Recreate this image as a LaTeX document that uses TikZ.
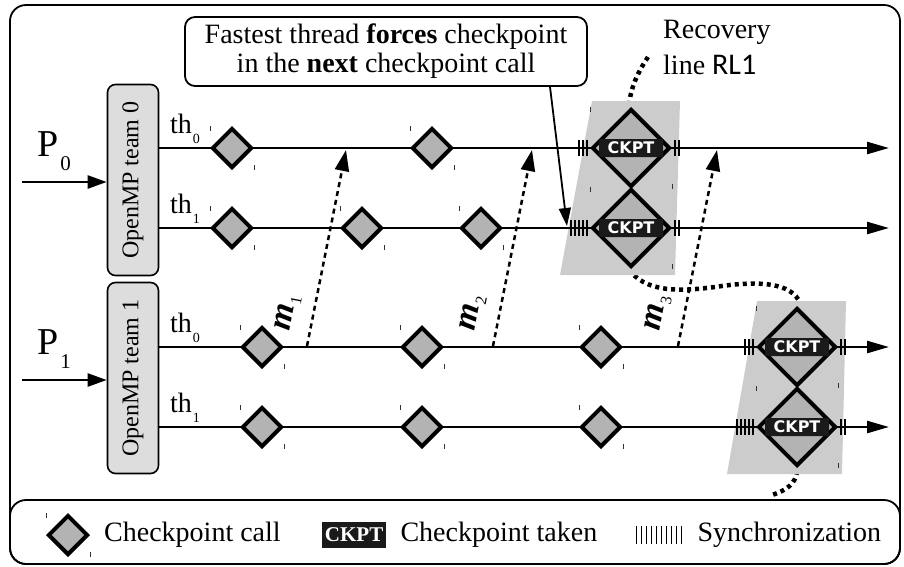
\documentclass[tikz,border=0pt]{standalone}
\usepackage{fontspec}
\usepackage{graphicx}
\setmainfont{Liberation Serif}
\setsansfont{DejaVu Sans}
\newfontfamily\rlfont{Carlito}
\usetikzlibrary{shapes.geometric, arrows.meta, positioning, calc}
\definecolor{callGray}{RGB}{179,179,179}
\definecolor{teamGray}{RGB}{221,221,221}
\definecolor{zoneGray}{RGB}{204,204,204}
\definecolor{ckptBlack}{RGB}{26,26,26}

\begin{document}
\begin{tikzpicture}[
        x=1pt, y=-1pt,
        team/.style={rectangle, rounded corners=8pt, draw, line width=1.6pt, fill=teamGray, minimum width=51pt, minimum height=191pt, inner sep=0pt, font=\fontsize{24}{24}\selectfont},
        call/.style={diamond, draw, line width=4pt, fill=callGray, minimum width=40pt, minimum height=40pt, inner sep=0pt},
        bigcall/.style={call, minimum width=78pt, minimum height=78pt},
        ckpt/.style={rectangle, rounded corners=2pt, fill=ckptBlack, text=white, inner sep=0pt, minimum width=64pt, minimum height=18pt, font=\sffamily\bfseries\fontsize{16}{16}\selectfont},
        ckptkey/.style={rectangle, fill=ckptBlack, text=white, inner sep=0pt, minimum width=64pt, minimum height=26pt, font=\bfseries\fontsize{21}{21}\selectfont},
        note/.style={rectangle, rounded corners=10pt, draw, line width=1.8pt, minimum width=402pt, minimum height=69pt, inner sep=0pt, align=center, font=\fontsize{28}{29}\selectfont},
        txt/.style={inner sep=0pt, font=\fontsize{28}{36}\selectfont},
        timeline/.style={line width=2.5pt, -{Triangle[length=22pt, width=12pt]}},
        feed/.style={line width=2.5pt, -{Triangle[length=19pt, width=13pt]}},
        msg/.style={line width=2.5pt, dash pattern=on 5pt off 4pt, -{Triangle[length=21pt, width=14pt]}},
        pointer/.style={line width=1.8pt, -{Triangle[length=18pt, width=12pt]}},
        recovery/.style={line width=4.5pt, dash pattern=on 4pt off 4pt},
        sync/.style={line width=1.8pt},
        corner/.style={line width=0.8pt, black!80},
        zone/.style={fill=zoneGray}
    ]
        \useasboundingbox (0,0) rectangle (904,566);
        \draw[line width=1.8pt, rounded corners=16pt] (10,5) rectangle (900,564);
        \draw[line width=1.8pt, rounded corners=16pt] (10,500) rectangle (900,564);

        \draw[recovery] (648,57) .. controls (636,75) and (629,92) .. (629,110) -- (631,272)
            .. controls (650,295) and (690,290) .. (715,287)
            .. controls (760,280) and (792,283) .. (800,303) -- (797,472)
            .. controls (795,484) and (787,490) .. (772,495);
        \fill[zone] (592,101) -- (680,101) -- (675,275) -- (560,275) -- cycle;
        \fill[zone] (757,301) -- (846,301) -- (842,474) -- (727,474) -- cycle;

        \node[team] (t0) at (133,180) {\rotatebox{90}{OpenMP team 0}};
        \node[team] (t1) at (133,378) {\rotatebox{90}{OpenMP team 1}};

        \node[anchor=base west, inner sep=0pt, font=\fontsize{38}{38}\selectfont] (p0) at (37,156) {P\hspace{2pt}\raisebox{-14pt}{\fontsize{21}{21}\selectfont 0}};
        \node[anchor=base west, inner sep=0pt, font=\fontsize{38}{38}\selectfont] (p1) at (37,354) {P\hspace{2pt}\raisebox{-14pt}{\fontsize{21}{21}\selectfont 1}};
        \coordinate (in0) at (22,182);
        \coordinate (in1) at (22,380);
        \draw[feed] (in0) -- (t0.west |- in0);
        \draw[feed] (in1) -- (t1.west |- in1);

        \coordinate (e0a) at (889,148);
        \coordinate (e0b) at (889,228);
        \coordinate (e1a) at (889,347);
        \coordinate (e1b) at (889,427);
        \draw[timeline] (t0.east |- e0a) -- (e0a);
        \draw[timeline] (t0.east |- e0b) -- (e0b);
        \draw[timeline] (t1.east |- e1a) -- (e1a);
        \draw[timeline] (t1.east |- e1b) -- (e1b);

        \foreach \n/\y/\s in {th0a/148/0, th0b/228/1, th1a/347/0, th1b/427/1}
            \node[txt, anchor=base west] (\n) at (170,\y-15) {th\hspace{1pt}\raisebox{-10pt}{\fontsize{14}{14}\selectfont\s}};

        \foreach \n/\x/\y in {d0a1/232/148, d0a2/432/148, d0b1/232/228, d0b2/362/228, d0b3/481/228,
                              d1a1/262/347, d1a2/422/347, d1a3/601/347, d1b1/262/427, d1b2/422/427, d1b3/601/427}
            \node[call] (\n) at (\x,\y) {};

        \node[bigcall] (k0a) at (631,148) {};
        \node[bigcall] (k0b) at (631,228) {};
        \node[bigcall] (k1a) at (797,347) {};
        \node[bigcall] (k1b) at (797,427) {};
        \node[ckpt] (c0a) at (k0a) {CKPT};
        \node[ckpt] (c0b) at (k0b) {CKPT};
        \node[ckpt] (c1a) at (k1a) {CKPT};
        \node[ckpt] (c1b) at (k1b) {CKPT};

        \foreach \n/\m in {k0a/2, k0b/4, k1a/2, k1b/4} {
            \foreach \k in {0,...,\m}
                \draw[sync] ([xshift={-3pt-4pt*\k}]\n.west) ++(0,-8) -- ++(0,16);
            \foreach \k in {0,1}
                \draw[sync] ([xshift={3pt+4pt*\k}]\n.east) ++(0,-8) -- ++(0,16);
        }

        \coordinate (m1s) at (307,346);
        \coordinate (m1e) at (346,150);
        \coordinate (m2s) at (493,346);
        \coordinate (m2e) at (532,150);
        \coordinate (m3s) at (678,346);
        \coordinate (m3e) at (717,150);
        \draw[msg] (m1s) -- (m1e);
        \draw[msg] (m2s) -- (m2e);
        \draw[msg] (m3s) -- (m3e);
        \foreach \n/\x/\s in {m1/288/1, m2/473/2, m3/658/3}
            \node[rotate=79, inner sep=0pt, font=\fontsize{34}{34}\selectfont] (\n) at (\x,313) {\textbf{\textit{m}}\hspace{1pt}\raisebox{-6pt}{\fontsize{16}{16}\selectfont\s}};

        \node[note] (note) at (386,51.5) {Fastest thread \textbf{forces} checkpoint\\in the \textbf{next} checkpoint call};
        \coordinate (forced) at (567,226);
        \draw[pointer] ([xshift=164pt]note.south) -- (forced);

        \node[txt, anchor=west, align=left] (rl) at (663,47.5) {Recovery\\line {\rlfont\fontsize{30}{36}\selectfont RL1}};

        \node[call] (lcall) at (68,535) {};
        \node[txt, right=14pt of lcall] (lcalltxt) {Checkpoint call};
        \node[ckptkey, right=41pt of lcalltxt] (lckpt) {CKPT};
        \node[txt, right=14pt of lckpt] (lckpttxt) {Checkpoint taken};
        \coordinate[right=39pt of lckpttxt] (lsync);
        \foreach \k in {0,...,9}
            \draw[sync] ([xshift={5pt*\k}]lsync) ++(0,-9) -- ++(0,18);
        \node[txt, right=61pt of lsync] (lsynctxt) {Synchronization};

        \foreach \n in {d0a1, d0a2, d0b1, d0b2, d0b3, d1a1, d1a2, d1a3, d1b1, d1b2, d1b3, k0a, k0b, k1a, k1b, lcall} {
            \draw[corner] (\n.west |- \n.north) -- ++(0,5);
            \draw[corner] (\n.east |- \n.south) -- ++(0,-5);
        }
    \end{tikzpicture}
\end{document}
